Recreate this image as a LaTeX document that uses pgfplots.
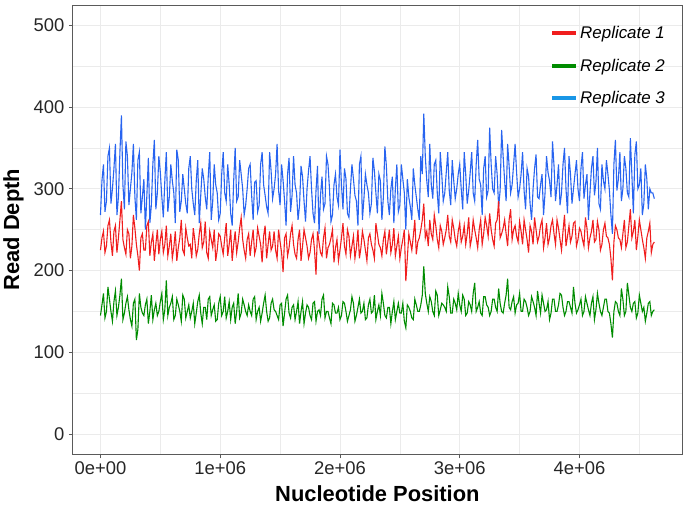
\documentclass[border=0pt]{standalone}
\usepackage{fontspec}
\setmainfont{Liberation Sans}
\usepackage{pgfplots}
\usepackage{pgfplotstable}
\pgfplotsset{compat=1.18}
\definecolor{rep1}{RGB}{240,30,30}
\definecolor{rep2}{RGB}{0,140,0}
\definecolor{rep3}{RGB}{40,100,240}
\definecolor{rep3leg}{RGB}{25,150,230}
\definecolor{gridc}{RGB}{235,235,235}
\definecolor{framec}{RGB}{90,90,90}
\pgfplotstableread{
x r g b
0 225 145 268
12500 240 158 310
25000 248 172 330
37500 222 142 272
50000 230 150 285
62500 255 180 340
75000 262 165 350
87500 235 150 282
100000 218 138 300
112500 248 162 325
125000 255 175 355
137500 222 145 268
150000 240 155 290
162500 262 170 345
175000 285 190 390
187500 238 140 305
200000 228 148 275
212500 220 160 358
225000 250 168 340
237500 245 152 280
250000 215 140 300
262500 230 132 320
275000 268 160 355
287500 252 165 290
300000 232 115 262
312500 218 128 335
325000 200 172 345
337500 240 155 270
350000 245 148 290
362500 225 145 312
375000 225 158 250
387500 255 165 292
400000 260 135 338
412500 218 150 258
425000 235 170 280
437500 245 140 330
450000 212 152 360
462500 232 160 275
475000 250 145 295
487500 220 150 340
500000 238 162 320
512500 248 172 290
525000 222 140 265
537500 232 152 310
550000 255 188 345
562500 218 145 272
575000 230 155 290
587500 245 160 330
600000 215 168 310
612500 228 140 295
625000 248 145 258
637500 212 165 348
650000 228 158 335
662500 240 150 272
675000 262 138 285
687500 225 170 318
700000 220 165 300
712500 252 142 282
725000 240 150 270
737500 230 158 325
750000 232 142 340
762500 215 150 300
775000 252 160 282
787500 238 135 268
800000 218 148 310
812500 226 162 335
825000 245 170 258
837500 258 148 292
850000 228 135 325
862500 235 155 312
875000 260 155 290
887500 222 140 275
900000 215 165 315
912500 248 168 345
925000 238 145 262
937500 228 152 285
950000 250 158 330
962500 212 138 305
975000 225 140 295
987500 245 160 262
1000000 242 168 270
1012500 230 145 318
1025000 220 150 345
1037500 240 168 295
1050000 258 142 285
1062500 218 150 330
1075000 232 162 305
1087500 250 140 270
1100000 212 155 255
1112500 232 160 310
1125000 248 135 350
1137500 222 150 285
1150000 235 172 290
1162500 252 142 335
1175000 265 148 318
1187500 238 165 300
1200000 225 158 268
1212500 215 150 280
1225000 238 145 300
1237500 245 158 325
1250000 218 150 330
1262500 235 145 292
1275000 250 165 262
1287500 220 168 308
1300000 228 140 310
1312500 252 150 272
1325000 242 155 280
1337500 232 138 330
1350000 210 148 345
1362500 242 160 305
1375000 255 170 292
1387500 215 150 278
1400000 232 138 270
1412500 248 142 345
1425000 225 160 322
1437500 230 165 288
1450000 248 152 300
1462500 225 150 318
1475000 215 145 355
1487500 250 140 298
1500000 235 158 280
1512500 222 160 330
1525000 198 132 310
1537500 240 148 285
1550000 245 165 255
1562500 218 170 318
1575000 228 148 338
1587500 245 142 272
1600000 255 155 292
1612500 232 158 340
1625000 220 140 305
1637500 215 150 295
1650000 238 162 262
1662500 250 135 280
1675000 212 150 328
1687500 230 162 315
1700000 250 135 285
1712500 240 148 260
1725000 230 158 300
1737500 215 155 322
1750000 222 145 340
1762500 238 140 300
1775000 245 160 270
1787500 225 162 258
1800000 195 138 298
1812500 248 150 328
1825000 235 152 245
1837500 222 145 292
1850000 218 165 315
1862500 240 170 275
1875000 252 142 282
1887500 215 150 340
1900000 228 150 330
1912500 232 142 300
1925000 240 135 260
1937500 250 160 268
1950000 210 158 305
1962500 228 148 318
1975000 238 148 290
1987500 212 155 280
2000000 225 140 348
2012500 240 145 305
2025000 258 162 275
2037500 230 160 325
2050000 220 150 312
2062500 250 138 270
2075000 242 145 265
2087500 218 152 300
2100000 230 168 330
2112500 242 160 312
2125000 215 138 292
2137500 228 145 285
2150000 250 155 255
2162500 215 165 330
2175000 228 148 340
2187500 248 150 262
2200000 238 160 288
2212500 225 140 318
2225000 212 142 305
2237500 240 158 295
2250000 245 165 270
2262500 232 148 282
2275000 225 150 338
2287500 215 170 322
2300000 258 140 295
2312500 245 150 270
2325000 232 158 318
2337500 228 145 310
2350000 218 172 262
2362500 238 160 290
2375000 248 145 352
2387500 220 142 328
2400000 235 155 285
2412500 250 155 268
2425000 222 135 300
2437500 232 150 315
2450000 252 162 258
2462500 218 140 300
2475000 230 150 330
2487500 242 160 272
2500000 215 148 280
2512500 228 148 330
2525000 238 160 312
2537500 250 138 295
2550000 187 130 250
2562500 215 158 312
2575000 245 155 290
2587500 235 150 278
2600000 225 142 262
2612500 242 140 325
2625000 262 165 305
2637500 220 158 290
2650000 235 150 275
2662500 240 150 262
2675000 250 158 340
2687500 262 170 318
2700000 282 205 392
2712500 240 172 340
2725000 248 160 310
2737500 230 150 290
2750000 262 168 355
2762500 245 162 305
2775000 238 150 288
2787500 268 145 330
2800000 255 175 335
2812500 238 170 295
2825000 228 145 270
2837500 255 152 345
2850000 248 160 318
2862500 232 158 285
2875000 240 155 295
2887500 250 150 320
2900000 268 180 345
2912500 242 168 298
2925000 235 148 280
2937500 262 148 335
2950000 252 165 310
2962500 238 160 288
2975000 230 152 300
2987500 248 172 318
3000000 258 158 330
3012500 235 150 300
3025000 242 170 275
3037500 255 165 345
3050000 232 145 318
3062500 245 148 282
3075000 265 162 298
3087500 230 158 320
3100000 240 150 345
3112500 262 172 295
3125000 250 185 285
3137500 240 150 330
3150000 228 155 360
3162500 250 162 312
3175000 262 148 305
3187500 232 145 268
3200000 245 168 325
3212500 265 168 340
3225000 255 158 290
3237500 242 155 298
3250000 270 145 375
3262500 250 150 330
3275000 238 165 300
3287500 230 165 295
3300000 258 155 340
3312500 262 150 318
3325000 285 178 278
3337500 240 160 298
3350000 245 150 372
3362500 252 148 340
3375000 262 160 310
3387500 245 170 285
3400000 230 190 355
3412500 262 155 328
3425000 275 152 295
3437500 238 162 305
3450000 250 168 330
3462500 255 148 355
3475000 242 158 320
3487500 235 160 290
3500000 260 172 300
3512500 248 150 318
3525000 232 150 345
3537500 262 165 298
3550000 250 162 275
3562500 238 155 325
3575000 222 145 315
3587500 255 150 282
3600000 248 168 262
3612500 232 162 300
3625000 265 155 325
3637500 250 145 342
3650000 235 175 290
3662500 242 160 288
3675000 255 148 305
3687500 262 170 318
3700000 228 160 268
3712500 240 150 295
3725000 258 152 340
3737500 232 162 320
3750000 240 140 310
3762500 255 148 290
3775000 262 165 358
3787500 245 165 328
3800000 232 150 285
3812500 262 150 305
3825000 252 158 330
3837500 238 172 280
3850000 225 170 295
3862500 248 155 330
3875000 268 145 350
3887500 230 150 300
3900000 242 162 270
3912500 255 162 340
3925000 235 155 318
3937500 242 148 282
3950000 258 180 300
3962500 260 160 318
3975000 230 148 335
3987500 238 152 300
4000000 252 158 285
4012500 248 165 325
4025000 238 145 345
4037500 230 150 288
4050000 265 168 305
4062500 252 160 318
4075000 228 152 262
4087500 240 145 295
4100000 248 160 325
4112500 262 168 340
4125000 235 140 292
4137500 238 152 308
4150000 260 172 350
4162500 250 160 282
4175000 225 150 275
4187500 232 145 330
4200000 250 155 310
4212500 258 165 300
4225000 242 165 335
4237500 240 150 318
4250000 232 148 298
4262500 215 135 268
4275000 188 118 245
4287500 235 150 330
4300000 255 162 360
4312500 250 160 298
4325000 240 150 312
4337500 238 145 345
4350000 228 178 285
4362500 245 165 300
4375000 262 145 340
4387500 228 150 325
4400000 235 185 295
4412500 255 170 290
4425000 275 155 362
4437500 240 150 318
4450000 248 160 270
4462500 262 162 342
4475000 225 142 358
4487500 242 148 300
4500000 262 170 305
4512500 250 160 325
4525000 238 150 268
4537500 228 155 282
4550000 215 138 330
4562500 240 148 312
4575000 248 160 275
4587500 258 162 300
4600000 222 145 295
4612500 232 150 295
4625000 235 152 288
}\datatable
\begin{document}
\begin{tikzpicture}
\begin{axis}[
  scale only axis, width=610bp, height=450bp,
  xmin=-231250, xmax=4856250, ymin=-25, ymax=525,
  axis line style={framec, line width=0.8bp},
  xtick={0,1000000,2000000,3000000,4000000},
  xticklabels={0e+00,1e+06,2e+06,3e+06,4e+06},
  scaled x ticks=false,
  ytick={0,100,200,300,400,500},
  minor xtick={500000,1500000,2500000,3500000,4500000},
  minor ytick={50,150,250,350,450},
  grid=both,
  major grid style={gridc, line width=0.9bp},
  minor grid style={gridc, line width=0.5bp},
  tick align=outside, tickpos=left,
  major tick length=4bp, minor tick length=0pt,
  tick style={framec, line width=0.8bp},
  /pgf/number format/assume math mode=true,
  ticklabel style={font=\fontsize{18.5}{22}\selectfont, text=black!85},
  xticklabel style={yshift=0bp},
  yticklabel style={xshift=-1bp},
  xlabel={\textbf{Nucleotide Position}},
  ylabel={\textbf{Read Depth}},
  label style={font=\fontsize{22}{26}\selectfont},
  xlabel style={yshift=-4bp},
  ylabel style={yshift=3bp},
  legend style={at={(1,1)}, anchor=north east, xshift=-12bp, yshift=-17bp,
    draw=none, fill=none,
    font=\fontsize{17}{20}\selectfont\itshape, row sep=15bp,
    /tikz/every even column/.append style={column sep=5bp}},
  legend cell align=left,
  legend image code/.code={\draw[line width=4bp] (0bp,0bp) -- (24bp,0bp);},
]
\addplot[rep3, line width=1.1bp, forget plot] table[x=x, y=b] {\datatable};
\addplot[rep1, line width=1.1bp, forget plot] table[x=x, y=r] {\datatable};
\addplot[rep2, line width=1.1bp, forget plot] table[x=x, y=g] {\datatable};
\addlegendimage{rep1}
\addlegendentry{Replicate 1}
\addlegendimage{rep2}
\addlegendentry{Replicate 2}
\addlegendimage{rep3leg}
\addlegendentry{Replicate 3}
\end{axis}
\path (-72bp,-56bp) rectangle (613bp,455bp);
\end{tikzpicture}
\end{document}
